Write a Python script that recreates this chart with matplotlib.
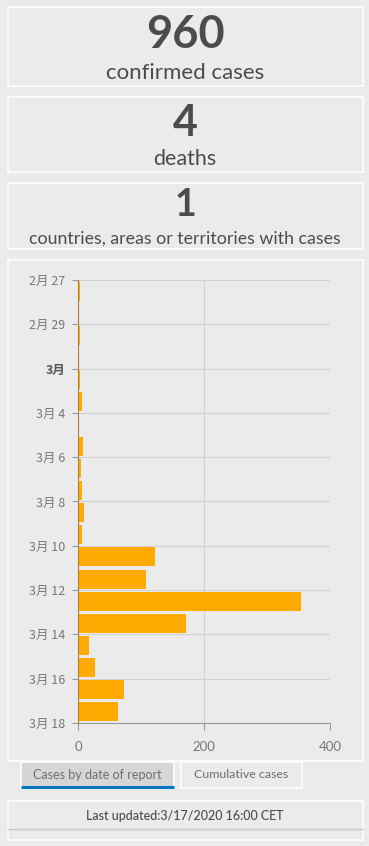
import numpy as np
import matplotlib.pyplot as plt
from matplotlib.patches import Rectangle

dias = ['2月 27', '2月 28', '2月 29', '3月 1', '3月 2', '3月 3', '3月 4', '3月 5', '3月 6', '3月 7',
        '3月 8', '3月 9', '3月 10', '3月 11', '3月 12', '3月 13', '3月 14', '3月 15', '3月 16', '3月 17']
casos = [3, 0, 3, 0, 3, 6, 0, 8, 5, 6, 10, 6, 122, 108, 354, 171, 17, 27, 73, 63]
rotulos_y = ['2月 27', '2月 29', '3月', '3月 4', '3月 6', '3月 8', '3月 10', '3月 12', '3月 14', '3月 16', '3月 18']
rotulos_x = [0, 200, 400]

total_casos = '960'
total_mortes = '4'
total_paises = '1'

W, H = 369, 846
fundo = '#ebebeb'
cinza_txt = '#4c4c4c'
cinza_eixo = '#777777'
laranja = '#ffaa00'

fonte = ['Lato', 'DejaVu Sans']
fonte_cjk = ['Noto Sans CJK JP', 'DejaVu Sans']

fig = plt.figure(figsize=(W / 100, H / 100), dpi=100, facecolor=fundo)

# eixo de fundo em pixels para caixas e textos
bg = fig.add_axes([0, 0, 1, 1])
bg.set_xlim(0, W)
bg.set_ylim(H, 0)
bg.axis('off')
bg.set_facecolor(fundo)


def caixa(x0, y0, x1, y1, cor=fundo, borda='white'):
    bg.add_patch(Rectangle((x0, y0), x1 - x0, y1 - y0, facecolor=cor,
                           edgecolor=borda, linewidth=1.2))


# caixas de indicadores
caixa(7.5, 7.5, 362.5, 86)
caixa(7.5, 97.5, 362.5, 172)
caixa(7.5, 183.5, 362.5, 249)
caixa(7.5, 260.5, 362.5, 761)

bg.text(185, 35, total_casos, ha='center', va='center', fontsize=32.5, fontweight='bold',
        color=cinza_txt, family=fonte)
bg.text(185, 73, 'confirmed cases', ha='center', va='center', fontsize=16,
        color=cinza_txt, family=fonte)
bg.text(185, 123, total_mortes, ha='center', va='center', fontsize=31, fontweight='bold',
        color=cinza_txt, family=fonte)
bg.text(185, 159, 'deaths', ha='center', va='center', fontsize=15.5,
        color=cinza_txt, family=fonte)
bg.text(185, 205, total_paises, ha='center', va='center', fontsize=27, fontweight='bold',
        color=cinza_txt, family=fonte)
bg.text(185, 239, 'countries, areas or territories with cases', ha='center', va='center',
        fontsize=12.8, color=cinza_txt, family=fonte)

# abas
caixa(20.5, 762, 174, 788, cor='#d6d6d6', borda='white')
bg.plot([20.5, 174], [787, 787], color='#0079c1', lw=2.2, solid_capstyle='butt')
bg.text(97, 775, 'Cases by date of report', ha='center', va='center', fontsize=9,
        color='#6e6e6e', family=fonte)
caixa(180.5, 762, 301.5, 788)
bg.text(241, 775, 'Cumulative cases', ha='center', va='center', fontsize=8.9,
        color='#6e6e6e', family=fonte)

# rodapé
caixa(7.5, 801.5, 362.5, 840)
bg.plot([7.5, 362.5], [829, 829], color='#c8c8c8', lw=1)
bg.text(185, 815.5, 'Last updated:3/17/2020 16:00 CET', ha='center', va='center',
        fontsize=9, fontweight='medium', color=cinza_txt, family=fonte)

# gráfico de barras
esq, dir_, topo, base = 78, 330, 280, 723
ax = fig.add_axes([esq / W, 1 - base / H, (dir_ - esq) / W, (base - topo) / H])
ax.set_facecolor('none')

pos = np.arange(len(casos)) + 0.5
ax.barh(pos, casos, height=0.86, color=laranja, zorder=3)

ax.set_xlim(0, 400)
ax.set_ylim(20, 0)
ax.set_yticks(np.arange(0, 21, 2))
ax.set_yticklabels(rotulos_y, family=fonte_cjk, fontsize=9, color=cinza_eixo)
ax.get_yticklabels()[2].set_color('#555555')
ax.get_yticklabels()[2].set_fontweight('bold')
ax.set_xticks(rotulos_x)
ax.set_xticklabels([str(v) for v in rotulos_x], family=fonte, fontsize=9.5, color=cinza_eixo)

ax.grid(True, color='#d2d2d2', lw=0.8, zorder=0)
ax.tick_params(axis='y', length=4, color='#999999', pad=5)
ax.tick_params(axis='x', length=5, color='#999999', pad=8)
for lado in ['top', 'right']:
    ax.spines[lado].set_visible(False)
ax.spines['bottom'].set_color('#999999')
ax.spines['left'].set_color('#a8843c')
ax.spines['left'].set_zorder(4)

fig.savefig('out.png', dpi=100, facecolor=fundo)
